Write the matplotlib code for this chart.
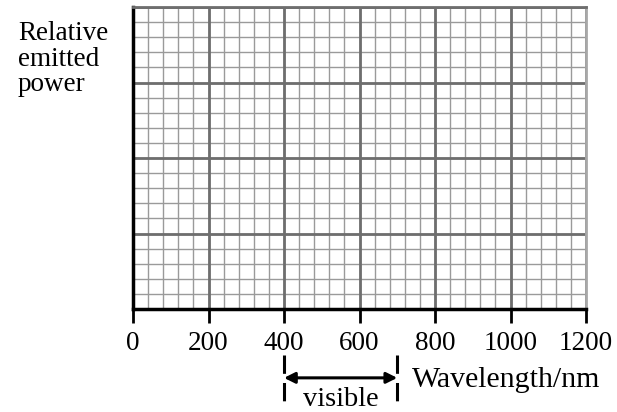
import matplotlib
matplotlib.use("Agg")
import matplotlib.pyplot as plt
import numpy as np

# axis setup
x_ticks = [0, 200, 400, 600, 800, 1000, 1200]
x_minor_step = 40
y_major = [0, 1, 2, 3, 4]
y_minor_step = 0.2
visible_range = [400, 700]
ylabel_lines = ['Relative', 'emitted', 'power']

plt.rcParams['font.family'] = ['Liberation Serif', 'DejaVu Serif']
FS = 19.5

fig = plt.figure(figsize=(6.17, 4.12), dpi=100)
ax = fig.add_axes([133/617, 1 - 309/412, 453/617, 302/412])

ax.set_xlim(x_ticks[0], x_ticks[-1])
ax.set_ylim(y_major[0], y_major[-1])

# minor grid
for xv in np.arange(x_ticks[0], x_ticks[-1] + 1, x_minor_step):
    ax.axvline(xv, color='#9a9a9a', lw=1.0, zorder=1)
for yv in np.arange(y_major[0], y_major[-1] + 0.01, y_minor_step):
    ax.axhline(yv, color='#9a9a9a', lw=1.0, zorder=1)
# major grid
for xv in x_ticks:
    ax.axvline(xv, color='#6e6e6e', lw=2.0, zorder=2)
for yv in y_major:
    ax.axhline(yv, color='#6e6e6e', lw=2.0, zorder=2)

ax.spines['top'].set_color('#6e6e6e')
ax.spines['top'].set_linewidth(2)
ax.spines['right'].set_color('#a8a8a8')
ax.spines['right'].set_linewidth(2)
ax.spines['left'].set_linewidth(2.5)
ax.spines['bottom'].set_linewidth(2.5)
for s in ax.spines.values():
    s.set_zorder(5)

ax.set_xticks(x_ticks)
ax.set_xticklabels([str(t) for t in x_ticks], fontsize=FS)
ax.tick_params(axis='x', direction='out', length=10, width=2, pad=5.5)
ax.set_yticks([])

tr = ax.get_xaxis_transform()
# dashed markers for the visible band
for xv in visible_range:
    ax.plot([xv, xv], [-0.152, -0.33], transform=tr, color='black', lw=2.2,
            ls=(0, (6, 3)), clip_on=False)
ax.annotate('', xy=(visible_range[1], -0.228), xytext=(visible_range[0], -0.228),
            xycoords=tr, textcoords=tr,
            arrowprops=dict(arrowstyle='<|-|>', color='black', lw=2.2,
                            mutation_scale=16, shrinkA=0, shrinkB=0))
ax.text(sum(visible_range) / 2, -0.321, 'visible', transform=tr, fontsize=20.5,
        ha='center', va='baseline')
ax.text(739, -0.258, 'Wavelength/nm', transform=tr, fontsize=21.5,
        ha='left', va='baseline')

for i, line in enumerate(ylabel_lines):
    fig.text(18/617, 1 - (40 + 25.5 * i)/412, line, fontsize=FS,
             ha='left', va='baseline')

fig.savefig('out.png', dpi=100)
